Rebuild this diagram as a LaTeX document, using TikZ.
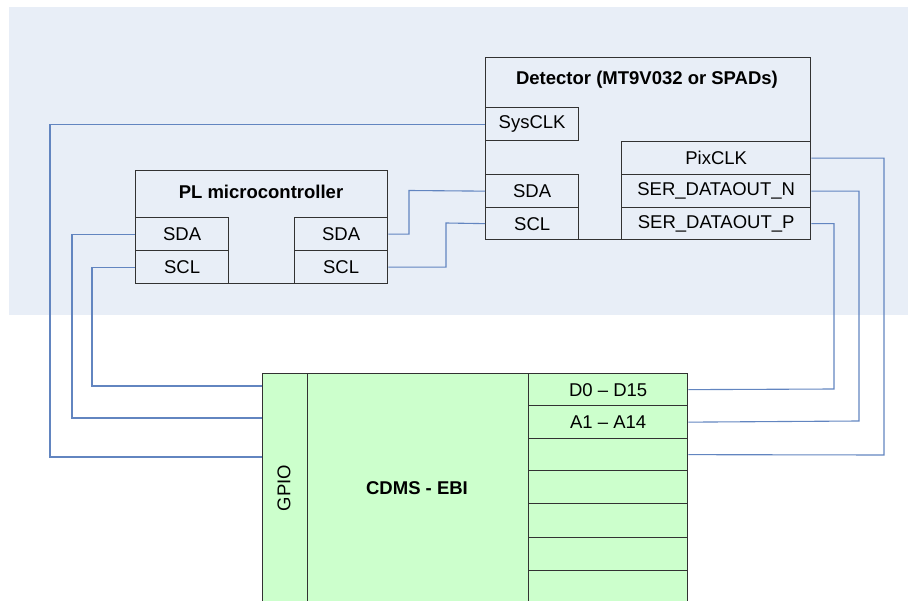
\documentclass[tikz,border=0pt]{standalone}
\usepackage{fontspec}
\setmainfont{Liberation Sans}
\definecolor{panelblue}{RGB}{232,238,247}
\definecolor{ebigreen}{RGB}{204,255,204}
\definecolor{wireblue}{RGB}{98,133,192}
\definecolor{edge}{RGB}{50,50,50}
\begin{document}
\begin{tikzpicture}[x=1pt,y=-1pt,
  box/.style={draw=edge,line width=1.3pt,rectangle,inner sep=0pt,anchor=north west},
  port/.style={box,font=\fontsize{18.5}{21}\selectfont},
  wire/.style={draw=wireblue,line width=1.1pt},
  title/.style={font=\bfseries\fontsize{18.5}{21}\selectfont}]
\useasboundingbox (0,0) rectangle (908,601);
\clip (0,0) rectangle (908,601);
% shaded area behind the detector and the microcontroller
\fill[panelblue] (9,7) rectangle (908,315);

% detector
\node[box,minimum width=325pt,minimum height=182pt] (det) at (485,57) {};
\node[title] (dett) at (647,80) {Detector (MT9V032 or SPADs)};
\node[port,minimum width=93pt,minimum height=33pt] (sysclk) at (485,107) {SysCLK};
\node[port,minimum width=93pt,minimum height=33pt] (dsda) at (485,174) {SDA};
\node[port,minimum width=93pt,minimum height=32pt] (dscl) at (485,207) {SCL};
\node[port,minimum width=189pt,minimum height=33pt] (pix) at (621,141) {PixCLK};
\node[port,minimum width=189pt,minimum height=33pt] (sern) at (621,174) {SER\_DATAOUT\_N};
\node[port,minimum width=189pt,minimum height=32pt] (serp) at (621,207) {SER\_DATAOUT\_P};

% microcontroller
\node[box,minimum width=252pt,minimum height=113pt] (pl) at (135,170) {};
\node[title] (plt) at (261,192) {PL microcontroller};
\node[port,minimum width=93pt,minimum height=33pt] (lsda) at (135,217) {SDA};
\node[port,minimum width=93pt,minimum height=33pt] (lscl) at (135,250) {SCL};
\node[port,minimum width=93pt,minimum height=33pt] (rsda) at (294,217) {SDA};
\node[port,minimum width=93pt,minimum height=33pt] (rscl) at (294,250) {SCL};

% CDMS external bus interface
\node[box,fill=ebigreen,minimum width=425pt,minimum height=260pt] (cdms) at (262,373) {};
\node[box,minimum width=45pt,minimum height=260pt] (gpio) at (262,373) {};
\node[font=\fontsize{18.5}{21}\selectfont,rotate=90] (gpiot) at (284,488) {GPIO};
\node[title] (ebit) at (417,488) {CDMS - EBI};
\node[port,minimum width=159pt,minimum height=32pt] (dbus) at (528,373) {D0 -- D15};
\node[port,minimum width=159pt,minimum height=33pt] (abus) at (528,405) {A1 -- A14};
\node[port,minimum width=159pt,minimum height=32pt] (r3) at (528,438) {};
\node[port,minimum width=159pt,minimum height=33pt] (r4) at (528,470) {};
\node[port,minimum width=159pt,minimum height=34pt] (r5) at (528,503) {};
\node[port,minimum width=159pt,minimum height=33pt] (r6) at (528,537) {};
\node[port,minimum width=159pt,minimum height=40pt] (r7) at (528,570) {};

% wiring to the GPIO side
\draw[wire] (sysclk.west) -| (50,457) -- (gpio.west |- 0,457);
\draw[wire] (lsda.west) -| (72,418) -- (gpio.west |- 0,418);
\draw[wire] (lscl.west) -| (92,386) -- (gpio.west |- 0,386);

% I2C between microcontroller and detector
\draw[wire] (rsda.east) -| (409,190.5) -- (dsda.west);
\draw[wire] (rscl.east) -| (446,223) -- (dscl.west);

% detector outputs to the bus side
\draw[wire] (pix.east) -| (884,455) -- (r3.east);
\draw[wire] (sern.east) -| (859,421) -- (abus.east);
\draw[wire] (serp.east) -| (834,389) -- (dbus.east);
\end{tikzpicture}
\end{document}
